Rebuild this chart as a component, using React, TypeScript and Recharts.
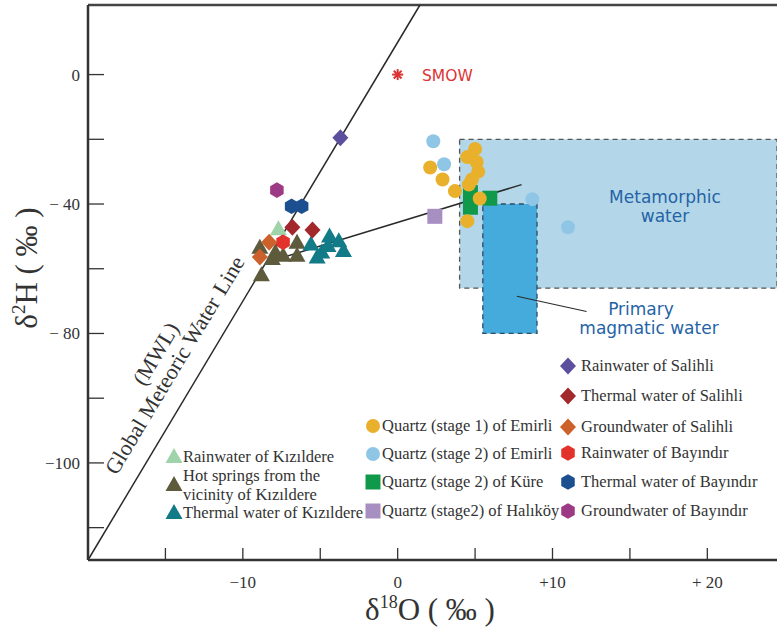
import React from 'react';
import {
  ScatterChart,
  Scatter,
  XAxis,
  YAxis,
  ReferenceLine,
  ReferenceArea,
  Customized,
} from 'recharts';

// ---------- axes ----------
const X_DOMAIN: [number, number] = [-20, 24.5];
const Y_DOMAIN: [number, number] = [-150, 21.5];
const X_TICKS = [-15, -10, -5, 0, 5, 10, 15, 20];
const X_LABELED = [-10, 0, 10, 20];
const X_LABEL_TEXT = ['\u221210', '0', '+10', '+ 20'];
const Y_TICKS = [0, -20, -40, -60, -80, -100, -120, -140];
const Y_LABELED = [0, -40, -80, -120];
const Y_LABEL_TEXT = ['0', '\u2212 40', '\u2212 80', '\u2212100'];

// ---------- reference lines / fields ----------
const MWL = [
  { x: -20, y: -150 },
  { x: 1.44, y: 21.5 },
];
const SHIFT_LINE = [
  { x: -8.1, y: -57.5 },
  { x: 8.0, y: -34 },
];
const MAGMATIC_POINTER = [
  { x: 7.7, y: -68.5 },
  { x: 12.2, y: -73.2 },
];
const METAMORPHIC_BOX = { x1: 4, x2: 24.5, y1: -66, y2: -20 };
const MAGMATIC_BOX = { x1: 5.5, x2: 9, y1: -80, y2: -40 };

// ---------- data ----------
const smow = [{ x: 0, y: 0 }];
const rainSalihli = [{ x: -3.7, y: -19.5 }];
const thermalSalihli = [
  { x: -6.8, y: -47.2 },
  { x: -5.5, y: -48 },
];
const groundSalihli = [
  { x: -8.3, y: -51.8 },
  { x: -8.9, y: -56.4 },
];
const rainBayindir = [{ x: -7.4, y: -51.8 }];
const thermalBayindir = [
  { x: -6.85, y: -40.7 },
  { x: -6.2, y: -40.7 },
];
const groundBayindir = [{ x: -7.8, y: -35.7 }];
const rainKizildere = [{ x: -7.7, y: -47.8 }];
const hotSprings = [
  { x: -8.9, y: -53.5 },
  { x: -8.8, y: -62 },
  { x: -8.1, y: -57 },
  { x: -7.9, y: -55 },
  { x: -7.4, y: -56 },
  { x: -6.5, y: -52 },
  { x: -6.5, y: -56 },
];
const thermalKizildere = [
  { x: -5.6, y: -52.5 },
  { x: -5.2, y: -56.5 },
  { x: -4.9, y: -55 },
  { x: -4.4, y: -50 },
  { x: -4.5, y: -53 },
  { x: -3.8, y: -51.5 },
  { x: -3.5, y: -54.5 },
];
const q1Emirli = [
  { x: 2.1, y: -28.7 },
  { x: 2.9, y: -32.4 },
  { x: 3.7, y: -36 },
  { x: 4.5, y: -45.3 },
  { x: 5.3, y: -38.3 },
  { x: 5.0, y: -23 },
  { x: 4.5, y: -25.5 },
  { x: 5.1, y: -27 },
  { x: 5.2, y: -30 },
  { x: 4.8, y: -32.4 },
  { x: 4.6, y: -34 },
];
const q2Emirli = [
  { x: 2.3, y: -20.6 },
  { x: 3.0, y: -27.7 },
  { x: 8.7, y: -38.5 },
  { x: 11.0, y: -47.2 },
];
const kure = [
  { x: 4.7, y: -36.5 },
  { x: 4.7, y: -41 },
  { x: 5.95, y: -38.2 },
];
const halikoy = [{ x: 2.4, y: -43.8 }];

// ---------- styles ----------
const SERIF = '"Liberation Serif", "Times New Roman", serif';
const SANS = '"DejaVu Sans", "Liberation Sans", sans-serif';
const TXT = '#333333';
const C = {
  rainSalihli: '#5b4f9e',
  thermalSalihli: '#a3282c',
  groundSalihli: '#cc612c',
  rainBayindir: '#e2322c',
  thermalBayindir: '#1b4f90',
  groundBayindir: '#9d3a86',
  rainKizildere: '#9fd4aa',
  hotSprings: '#5e5a3c',
  thermalKizildere: '#137a87',
  q1Emirli: '#e9b02c',
  q2Emirli: '#8fc6e6',
  kure: '#10994a',
  halikoy: '#a78fc2',
  smow: '#dd3333',
  label: '#2563a6',
};

type P = { cx?: number; cy?: number; fill?: string };

const Tri = ({ cx = 0, cy = 0, fill }: P) => (
  <polygon
    points={`${cx},${cy - 9} ${cx + 8.5},${cy + 6} ${cx - 8.5},${cy + 6}`}
    fill={fill}
  />
);
const Diamond = ({ cx = 0, cy = 0, fill }: P) => (
  <polygon
    points={`${cx},${cy - 8.5} ${cx + 8},${cy} ${cx},${cy + 8.5} ${cx - 8},${cy}`}
    fill={fill}
  />
);
const Hex = ({ cx = 0, cy = 0, fill }: P) => {
  const r = 7.8;
  const pts: string[] = [];
  for (let i = 0; i < 6; i++) {
    const a = (Math.PI / 3) * i - Math.PI / 2;
    pts.push(`${cx + r * Math.cos(a)},${cy + r * Math.sin(a)}`);
  }
  return <polygon points={pts.join(' ')} fill={fill} />;
};
const Dot = ({ cx = 0, cy = 0, fill }: P) => <circle cx={cx} cy={cy} r={7} fill={fill} />;
const Sq = ({ cx = 0, cy = 0, fill }: P) => (
  <rect x={cx - 7.5} y={cy - 7.5} width={15} height={15} fill={fill} />
);
const Star = ({ cx = 0, cy = 0, fill }: P) => {
  const r = 5.5;
  const lines = [];
  for (let i = 0; i < 4; i++) {
    const a = (Math.PI / 4) * i;
    lines.push(
      <line
        key={i}
        x1={cx - r * Math.cos(a)}
        y1={cy - r * Math.sin(a)}
        x2={cx + r * Math.cos(a)}
        y2={cy + r * Math.sin(a)}
        stroke={fill}
        strokeWidth={2}
      />
    );
  }
  return <g>{lines}</g>;
};

const shapeOf = (Comp: any, fill: string) => (props: any) => (
  <Comp cx={props.cx} cy={props.cy} fill={fill} />
);

// ---------- ticks ----------
const XTick = (props: any) => {
  const { x, y, payload } = props;
  const idx = X_LABELED.indexOf(payload.value);
  return (
    <g>
      <line x1={x} y1={y} x2={x} y2={y - 12} stroke={TXT} strokeWidth={1.3} />
      {idx >= 0 && (
        <text x={x} y={y + 28} textAnchor="middle" fontFamily={SERIF} fontSize={17} fill={TXT}>
          {X_LABEL_TEXT[idx]}
        </text>
      )}
    </g>
  );
};
const YTick = (props: any) => {
  const { x, y, payload } = props;
  const idx = Y_LABELED.indexOf(payload.value);
  return (
    <g>
      <line x1={x} y1={y} x2={x + 16} y2={y} stroke={TXT} strokeWidth={1.3} />
      {idx >= 0 && (
        <text x={x - 8} y={y + 6} textAnchor="end" fontFamily={SERIF} fontSize={17} fill={TXT}>
          {Y_LABEL_TEXT[idx]}
        </text>
      )}
    </g>
  );
};

// ---------- legend ----------
const LEG_LEFT = [
  { shape: Tri, color: C.rainKizildere, lines: ['Rainwater of K\u0131z\u0131ldere'] },
  { shape: Tri, color: C.hotSprings, lines: ['Hot springs from the', 'vicinity of K\u0131z\u0131ldere'] },
  { shape: Tri, color: C.thermalKizildere, lines: ['Thermal water of K\u0131z\u0131ldere'] },
];
const LEG_MID = [
  { shape: Dot, color: C.q1Emirli, label: 'Quartz (stage 1) of Emirli' },
  { shape: Dot, color: C.q2Emirli, label: 'Quartz (stage 2) of Emirli' },
  { shape: Sq, color: C.kure, label: 'Quartz (stage 2) of K\u00fcre' },
  { shape: Sq, color: C.halikoy, label: 'Quartz (stage2) of Hal\u0131k\u00f6y' },
];
const LEG_RIGHT = [
  { shape: Diamond, color: C.rainSalihli, label: 'Rainwater of Salihli' },
  { shape: Diamond, color: C.thermalSalihli, label: 'Thermal water of Salihli' },
  { shape: Diamond, color: C.groundSalihli, label: 'Groundwater of Salihli' },
  { shape: Hex, color: C.rainBayindir, label: 'Rainwater of Bay\u0131nd\u0131r' },
  { shape: Hex, color: C.thermalBayindir, label: 'Thermal water of Bay\u0131nd\u0131r' },
  { shape: Hex, color: C.groundBayindir, label: 'Groundwater of Bay\u0131nd\u0131r' },
];

const MWL_WORDS = ['Global', 'Meteoric', 'Water', 'Line'];
const MWL_WORD_X = [-124.9, -59.5, 25.4, 84.6];

const MetaLabel = () => (
  <g>
    <text x={665} y={203} textAnchor="middle" fontFamily={SANS} fontSize={17} fill={C.label}>
      Metamorphic
    </text>
    <text x={665} y={222} textAnchor="middle" fontFamily={SANS} fontSize={17} fill={C.label}>
      water
    </text>
  </g>
);

const Annotations = () => {
  const leftMarkY = [457, 485, 513];
  const leftTextY = [[462], [481, 499.5], [518]];
  const midY = [426, 454, 482, 511];
  const rightY = [366, 396, 427, 453, 482, 511];
  const LF = 16.5;
  return (
    <g>
      {/* MWL label */}
      <g transform="translate(181,369) rotate(-59)">
        {MWL_WORDS.map((w, i) => (
          <text key={w} x={MWL_WORD_X[i]} y={0} fontFamily={SERIF} fontSize={22} fill={TXT}>
            {w}
          </text>
        ))}
        <text x={0} y={-22} textAnchor="middle" fontFamily={SERIF} fontSize={22} fill={TXT}>
          (MWL)
        </text>
      </g>
      {/* SMOW */}
      <text x={422} y={81} fontFamily={SANS} fontSize={15.5} fill={C.smow}>
        SMOW
      </text>
      <text x={641} y={315} textAnchor="middle" fontFamily={SANS} fontSize={17} fill={C.label}>
        Primary
      </text>
      <text x={649} y={334} textAnchor="middle" fontFamily={SANS} fontSize={17} fill={C.label}>
        magmatic water
      </text>
      {/* legends */}
      {LEG_LEFT.map((it, i) => {
        const S = it.shape;
        return (
          <g key={'l' + i}>
            <S cx={174} cy={leftMarkY[i]} fill={it.color} />
            {it.lines.map((ln, j) => (
              <text key={j} x={183} y={leftTextY[i][j]} fontFamily={SERIF} fontSize={LF} fill={TXT}>
                {ln}
              </text>
            ))}
          </g>
        );
      })}
      {LEG_MID.map((it, i) => {
        const S = it.shape;
        return (
          <g key={'m' + i}>
            <S cx={373} cy={midY[i]} fill={it.color} />
            <text x={382} y={midY[i] + 5} fontFamily={SERIF} fontSize={LF} fill={TXT}>
              {it.label}
            </text>
          </g>
        );
      })}
      {LEG_RIGHT.map((it, i) => {
        const S = it.shape;
        return (
          <g key={'r' + i}>
            <S cx={568} cy={rightY[i]} fill={it.color} />
            <text x={581} y={rightY[i] + 5} fontFamily={SERIF} fontSize={LF} fill={TXT}>
              {it.label}
            </text>
          </g>
        );
      })}
      {/* axis titles */}
      <text x={430} y={620} textAnchor="middle" fontFamily={SERIF} fontSize={31} fill={TXT}>
        δ<tspan fontSize={18} dy={-12}>18</tspan>
        <tspan dy={12}>O ( ‰ )</tspan>
      </text>
      <g transform="translate(37,268) rotate(-90)">
        <text x={0} y={0} textAnchor="middle" fontFamily={SERIF} fontSize={31} fill={TXT}>
          δ<tspan fontSize={19} dy={-12}>2</tspan>
          <tspan dy={12}>H ( ‰ )</tspan>
        </text>
      </g>
    </g>
  );
};

export default function App() {
  return (
    <div style={{ position: 'absolute', left: 0, top: 0, background: '#fff' }}>
      <ScatterChart width={777} height={631} margin={{ top: 5, right: 0, bottom: 0, left: 0 }}>
        <XAxis
          type="number"
          dataKey="x"
          domain={X_DOMAIN}
          ticks={X_TICKS}
          allowDataOverflow
          height={71}
          tickSize={0}
          tickMargin={0}
          tickLine={false}
          axisLine={{ stroke: TXT, strokeWidth: 2.5 }}
          tick={<XTick />}
          interval={0}
        />
        <YAxis
          type="number"
          dataKey="y"
          domain={Y_DOMAIN}
          ticks={Y_TICKS}
          allowDataOverflow
          width={88}
          tickSize={0}
          tickMargin={0}
          tickLine={false}
          axisLine={{ stroke: TXT, strokeWidth: 2.5 }}
          tick={<YTick />}
          interval={0}
        />
        <ReferenceLine y={Y_DOMAIN[1]} stroke="#444" strokeWidth={2.5} />
        <ReferenceArea
          x1={METAMORPHIC_BOX.x1}
          x2={METAMORPHIC_BOX.x2}
          y1={METAMORPHIC_BOX.y1}
          y2={METAMORPHIC_BOX.y2}
          fill="#b3d7e8"
          fillOpacity={1}
          stroke="#555"
          strokeDasharray="5 4"
          strokeWidth={1.3}
          label={<MetaLabel />}
        />
        <ReferenceArea
          x1={MAGMATIC_BOX.x1}
          x2={MAGMATIC_BOX.x2}
          y1={MAGMATIC_BOX.y1}
          y2={MAGMATIC_BOX.y2}
          fill="#45abdd"
          fillOpacity={1}
          stroke="#2d4a66"
          strokeDasharray="5 4"
          strokeWidth={1.3}
        />
        <ReferenceLine segment={MWL} stroke="#2a2a2a" strokeWidth={1.5} />
        <ReferenceLine segment={SHIFT_LINE} stroke="#2a2a2a" strokeWidth={1.5} />
        <ReferenceLine segment={MAGMATIC_POINTER} stroke="#2a2a2a" strokeWidth={1.2} />
        <Scatter data={smow} shape={shapeOf(Star, C.smow)} isAnimationActive={false} />
        <Scatter data={hotSprings} shape={shapeOf(Tri, C.hotSprings)} isAnimationActive={false} />
        <Scatter data={thermalKizildere} shape={shapeOf(Tri, C.thermalKizildere)} isAnimationActive={false} />
        <Scatter data={rainKizildere} shape={shapeOf(Tri, C.rainKizildere)} isAnimationActive={false} />
        <Scatter data={groundSalihli} shape={shapeOf(Diamond, C.groundSalihli)} isAnimationActive={false} />
        <Scatter data={thermalSalihli} shape={shapeOf(Diamond, C.thermalSalihli)} isAnimationActive={false} />
        <Scatter data={rainBayindir} shape={shapeOf(Hex, C.rainBayindir)} isAnimationActive={false} />
        <Scatter data={thermalBayindir} shape={shapeOf(Hex, C.thermalBayindir)} isAnimationActive={false} />
        <Scatter data={groundBayindir} shape={shapeOf(Hex, C.groundBayindir)} isAnimationActive={false} />
        <Scatter data={rainSalihli} shape={shapeOf(Diamond, C.rainSalihli)} isAnimationActive={false} />
        <Scatter data={kure} shape={shapeOf(Sq, C.kure)} isAnimationActive={false} />
        <Scatter data={q1Emirli} shape={shapeOf(Dot, C.q1Emirli)} isAnimationActive={false} />
        <Scatter data={q2Emirli} shape={shapeOf(Dot, C.q2Emirli)} isAnimationActive={false} />
        <Scatter data={halikoy} shape={shapeOf(Sq, C.halikoy)} isAnimationActive={false} />
        <Customized component={Annotations} />
      </ScatterChart>
    </div>
  );
}
